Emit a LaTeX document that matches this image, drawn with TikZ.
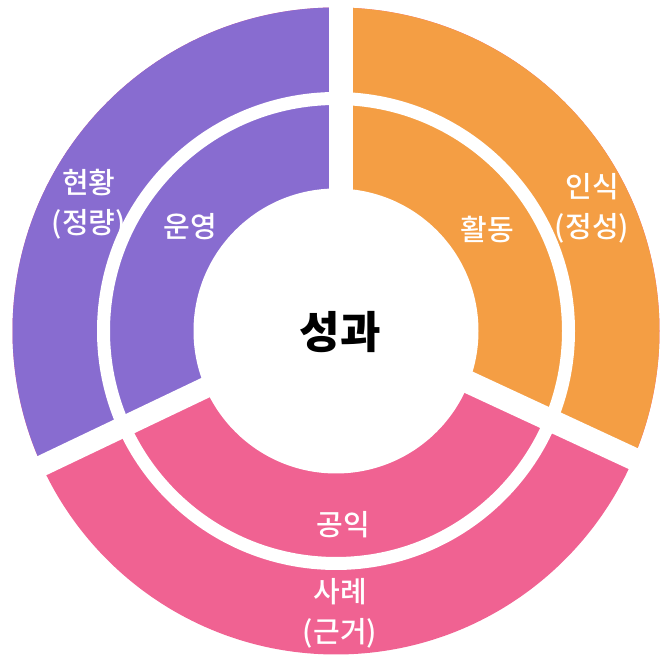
\documentclass[tikz,border=0pt]{standalone}
\usepackage{fontspec}
\setmainfont{Noto Sans CJK KR}
\newfontfamily\medfont{Noto Sans CJK KR Medium}
\usetikzlibrary{calc}

\definecolor{ringpurple}{HTML}{886CD0}
\definecolor{ringorange}{HTML}{F49E44}
\definecolor{ringpink}{HTML}{F06292}

\tikzset{
    gap/.style={white, line width=#1},
    ringlabel/.style={text=white, font=\medfont\fontsize{29}{40}\selectfont, align=center},
    corelabel/.style={text=black, font=\fontsize{44}{50}\selectfont\bfseries},
}

\begin{document}
\begin{tikzpicture}[x=1pt,y=1pt]
    \useasboundingbox (0,0) rectangle (665,655);

    % centre of the rings, meeting point of the gaps
    \coordinate (C) at (336,324);
    \coordinate (G) at (341,332);

    % sectors
    \fill[ringpink] (C) circle (323.5);
    \fill[ringpurple] (G) -- ($(C)+(90:323.5)$)
        arc[start angle=90, end angle=205.5, radius=323.5] -- cycle;
    \fill[ringorange] (G) -- ($(C)+(90:323.5)$)
        arc[start angle=90, end angle=-24.9, radius=323.5] -- cycle;

    % gaps between sectors and rings
    \draw[gap=24] (G) -- ++(90:340);
    \draw[gap=21] (G) -- ++(205.5:340);
    \draw[gap=22.7] (G) -- ++(-24.9:340);
    \draw[gap=13] (C) circle (232.5);
    \fill[white] (C) circle (142.5);

    % labels
    \node[corelabel] (core) at (340,323) {성과};
    \node[ringlabel] (unyeong) at (190,428) {운영};
    \node[ringlabel] (hwaldong) at (487,425) {활동};
    \node[ringlabel] (gongik) at (343,130) {공익};
    \node[ringlabel] (hyeonhwang) at (89,451) {현황\\(정량)};
    \node[ringlabel] (insik) at (592,447) {인식\\(정성)};
    \node[ringlabel] (sarye) at (340,42) {사례\\(근거)};
\end{tikzpicture}
\end{document}
